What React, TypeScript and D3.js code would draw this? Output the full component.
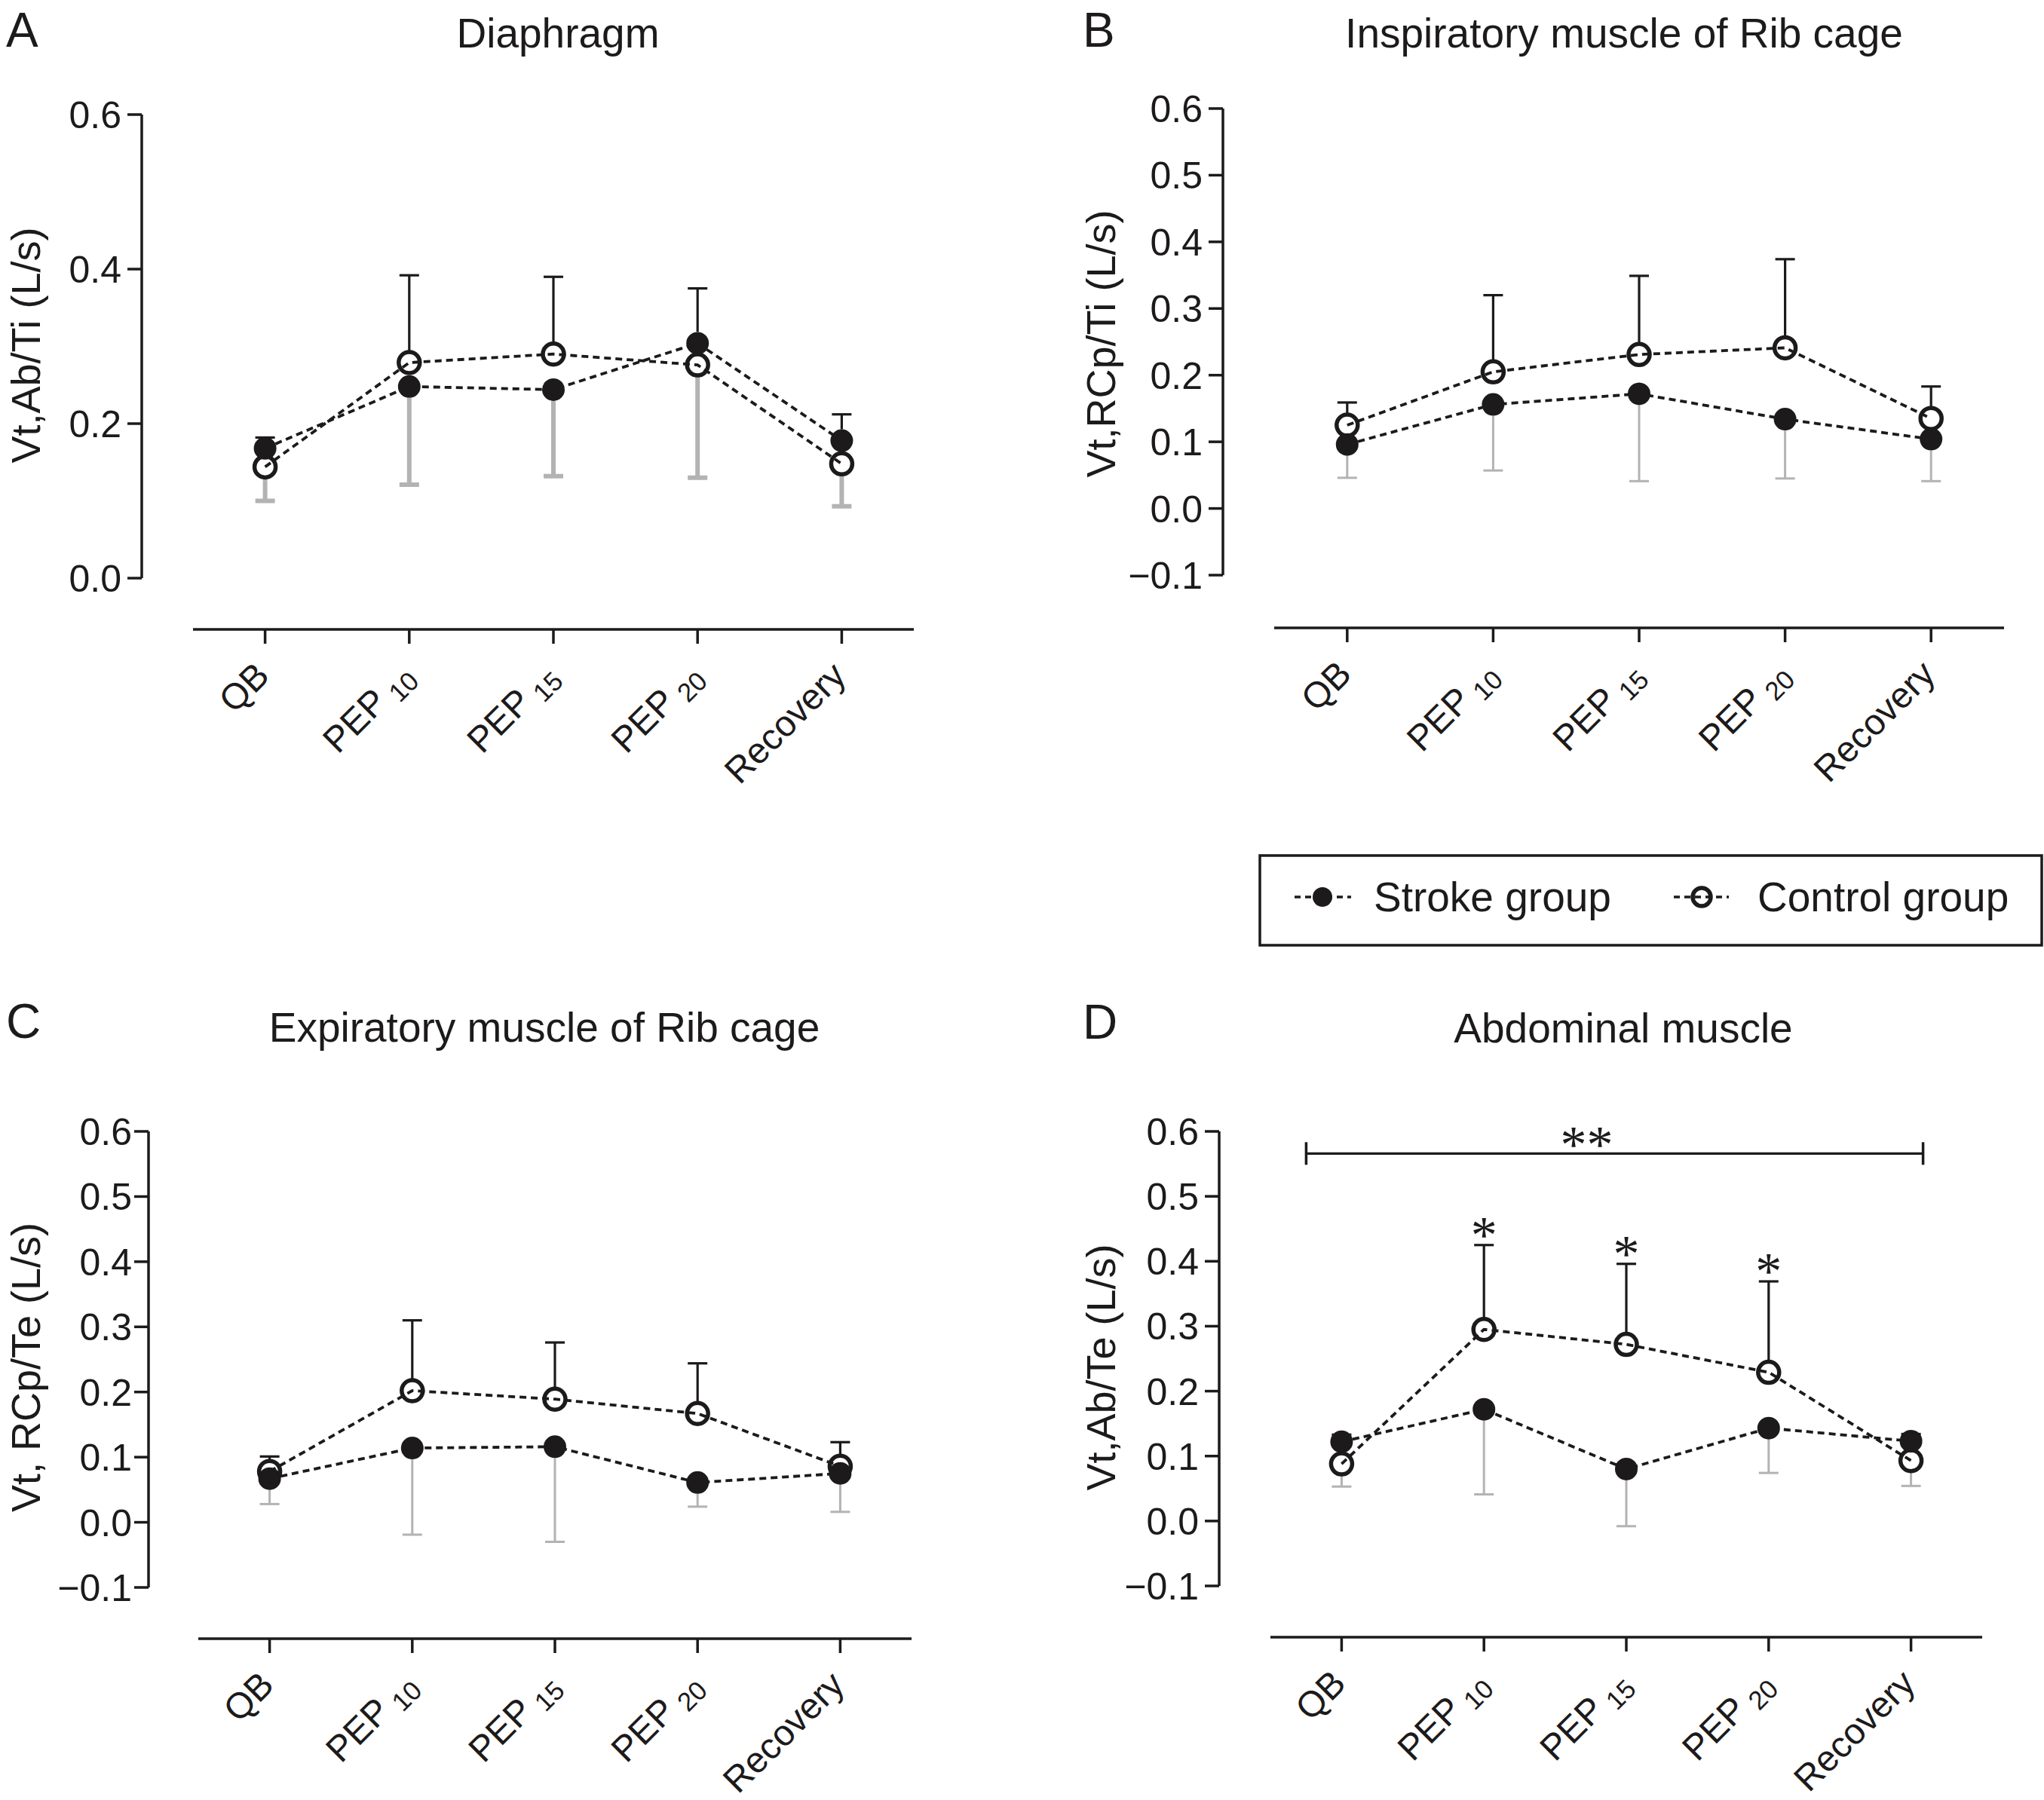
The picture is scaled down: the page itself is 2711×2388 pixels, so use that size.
import * as d3 from "d3";

const categories = ["QB", "PEP10", "PEP15", "PEP20", "Recovery"];
const catMain = ["QB", "PEP", "PEP", "PEP", "Recovery"];
const catSub = ["", "10", "15", "20", ""];

// A: Diaphragm
const strokeA = [0.168, 0.248, 0.244, 0.304, 0.178];
const controlA = [0.144, 0.279, 0.29, 0.276, 0.148];
const highA = [0.182, 0.392, 0.39, 0.375, 0.212];
const lowA = [0.1, 0.121, 0.132, 0.13, 0.093];

// B: Inspiratory muscle of Rib cage
const strokeB = [0.096, 0.156, 0.172, 0.134, 0.104];
const controlB = [0.125, 0.205, 0.231, 0.241, 0.135];
const highB = [0.159, 0.32, 0.349, 0.374, 0.183];
const lowB = [0.046, 0.057, 0.041, 0.045, 0.041];

// C: Expiratory muscle of Rib cage
const strokeC = [0.067, 0.114, 0.116, 0.061, 0.075];
const controlC = [0.078, 0.202, 0.189, 0.167, 0.086];
const highC = [0.101, 0.31, 0.276, 0.244, 0.123];
const lowC = [0.028, -0.019, -0.03, 0.024, 0.016];

// D: Abdominal muscle
const strokeD = [0.122, 0.172, 0.08, 0.143, 0.123];
const controlD = [0.088, 0.295, 0.272, 0.229, 0.093];
const highD = [0.133, 0.425, 0.396, 0.369, 0.134];
const lowD = [0.053, 0.041, -0.008, 0.074, 0.054];

const ticksA = [0, 0.2, 0.4, 0.6];
const ticksBCD = [-0.1, 0, 0.1, 0.2, 0.3, 0.4, 0.5, 0.6];

const sigStarIdx = [1, 2, 3]; // single * over control error bars in D

const FONT = "'Liberation Sans', Arial, Helvetica, sans-serif";
const SERIF = "'Liberation Serif', 'Times New Roman', serif";
const INK = "#1c1a1b";
const GRAY = "#b3b3b3";
const fmt = d3.format(".1f");

const panels = [
  {
    letter: "A", title: "Diaphragm", yLabel: "Vt,Ab/Ti (L/s)",
    stroke: strokeA, control: controlA, high: highA, low: lowA,
    yDomain: [0, 0.6], ticks: ticksA,
    axisX: 188, yTop: 152, yBot: 767, xAxisY: 835, xRange: [256, 1212],
    titleX: 740, titleY: 63, letterX: 8, letterY: 62, yLabelX: 53, yLabelY: 458,
    grayW: 6, labelGap: 27,
  },
  {
    letter: "B", title: "Inspiratory muscle of Rib cage", yLabel: "Vt,RCp/Ti (L/s)",
    stroke: strokeB, control: controlB, high: highB, low: lowB,
    yDomain: [-0.1, 0.6], ticks: ticksBCD,
    axisX: 1622, yTop: 144, yBot: 763, xAxisY: 833, xRange: [1690, 2658],
    titleX: 2154, titleY: 63, letterX: 1436, letterY: 62, yLabelX: 1479, yLabelY: 456,
    grayW: 3, labelGap: 27,
  },
  {
    letter: "C", title: "Expiratory muscle of Rib cage", yLabel: "Vt, RCp/Te (L/s)",
    stroke: strokeC, control: controlC, high: highC, low: lowC,
    yDomain: [-0.1, 0.6], ticks: ticksBCD,
    axisX: 197, yTop: 1501, yBot: 2106, xAxisY: 2174, xRange: [263, 1209],
    titleX: 722, titleY: 1382, letterX: 8, letterY: 1377, yLabelX: 53, yLabelY: 1814,
    grayW: 3, labelGap: 22,
  },
  {
    letter: "D", title: "Abdominal muscle", yLabel: "Vt,Ab/Te (L/s)",
    stroke: strokeD, control: controlD, high: highD, low: lowD,
    yDomain: [-0.1, 0.6], ticks: ticksBCD,
    axisX: 1617, yTop: 1501, yBot: 2104, xAxisY: 2172, xRange: [1685, 2629],
    titleX: 2153, titleY: 1383, letterX: 1436, letterY: 1378, yLabelX: 1479, yLabelY: 1814,
    grayW: 3, labelGap: 27,
  },
];

const R_FILL = 15;
const R_OPEN = 14;

function Panel({ p }: { p: (typeof panels)[number] }) {
  const x = d3.scalePoint<string>().domain(categories).range(p.xRange as [number, number]).padding(0.5);
  const y = d3.scaleLinear().domain(p.yDomain).range([p.yBot, p.yTop]);
  const line = d3
    .line<number>()
    .x((_, i) => x(categories[i])!)
    .y((d) => y(d));

  const capHalf = 13;

  return (
    <g>
      <text x={p.letterX} y={p.letterY} fontSize={64} fill={INK} fontFamily={FONT}>{p.letter}</text>
      <text x={p.titleX} y={p.titleY} fontSize={55} fill={INK} fontFamily={FONT} textAnchor="middle">{p.title}</text>
      <text
        transform={`translate(${p.yLabelX},${p.yLabelY}) rotate(-90)`}
        fontSize={54} fill={INK} fontFamily={FONT} textAnchor="middle"
      >{p.yLabel}</text>

      {/* y axis */}
      <line x1={p.axisX} x2={p.axisX} y1={y(p.yDomain[1])} y2={y(p.yDomain[0])} stroke={INK} strokeWidth={3.5} />
      {p.ticks.map((t) => (
        <g key={t}>
          <line x1={p.axisX - 19} x2={p.axisX} y1={y(t)} y2={y(t)} stroke={INK} strokeWidth={3.5} />
          <text x={p.axisX - p.labelGap} y={y(t)} dy="0.36em" fontSize={50} fill={INK} fontFamily={FONT} textAnchor="end">
            {fmt(t)}
          </text>
        </g>
      ))}

      {/* x axis */}
      <line x1={p.xRange[0]} x2={p.xRange[1]} y1={p.xAxisY} y2={p.xAxisY} stroke={INK} strokeWidth={3.5} />
      {categories.map((c, i) => (
        <g key={c}>
          <line x1={x(c)} x2={x(c)} y1={p.xAxisY} y2={p.xAxisY + 19} stroke={INK} strokeWidth={3.5} />
          <text
            transform={`translate(${x(c)! + 8},${p.xAxisY + 64}) rotate(-45)`}
            fontSize={48} fill={INK} fontFamily={FONT} textAnchor="end"
          >
            {catMain[i]}
            {catSub[i] && (
              <tspan fontSize={35} dx={10} dy={10}>{catSub[i]}</tspan>
            )}
          </text>
        </g>
      ))}

      {/* gray (lower) error bars */}
      {categories.map((c, i) => {
        const lo = Math.min(p.stroke[i], p.control[i]);
        const y0 = y(lo) + R_FILL;
        const y1 = y(p.low[i]);
        return (
          <g key={c} stroke={GRAY} strokeWidth={p.grayW}>
            {y1 > y0 && <line x1={x(c)} x2={x(c)} y1={y0} y2={y1} />}
            <line x1={x(c)! - capHalf} x2={x(c)! + capHalf} y1={y1} y2={y1} />
          </g>
        );
      })}

      {/* black (upper) error bars */}
      {categories.map((c, i) => {
        const hi = Math.max(p.stroke[i], p.control[i]);
        const y0 = y(hi) - R_FILL;
        const y1 = y(p.high[i]);
        return (
          <g key={c} stroke={INK} strokeWidth={3.2}>
            {y0 > y1 && <line x1={x(c)} x2={x(c)} y1={y0} y2={y1} />}
            <line x1={x(c)! - capHalf} x2={x(c)! + capHalf} y1={y1} y2={y1} />
          </g>
        );
      })}

      <path d={line(p.stroke)!} fill="none" stroke={INK} strokeWidth={3.8} strokeDasharray="9 6" />
      <path d={line(p.control)!} fill="none" stroke={INK} strokeWidth={3.8} strokeDasharray="9 6" />

      {p.stroke.map((v, i) => (
        <circle key={"s" + i} cx={x(categories[i])} cy={y(v)} r={R_FILL} fill={INK} />
      ))}
      {p.control.map((v, i) => (
        <circle key={"c" + i} cx={x(categories[i])} cy={y(v)} r={R_OPEN} fill="none" stroke={INK} strokeWidth={5.5} />
      ))}

      {p.letter === "D" && (
        <g>
          {/* overall group difference bar */}
          <line x1={x("QB")! - 47} x2={x("Recovery")! + 16} y1={y(0.566)} y2={y(0.566)} stroke={INK} strokeWidth={3.2} />
          <line x1={x("QB")! - 47} x2={x("QB")! - 47} y1={y(0.566) - 15} y2={y(0.566) + 15} stroke={INK} strokeWidth={3.5} />
          <line x1={x("Recovery")! + 16} x2={x("Recovery")! + 16} y1={y(0.566) - 15} y2={y(0.566) + 15} stroke={INK} strokeWidth={3.5} />
          <text x={(x("PEP10")! + x("PEP15")!) / 2 + 42} y={y(0.566) + 12} fontSize={70} fill={INK}
            fontFamily={SERIF} textAnchor="middle">**</text>
          {sigStarIdx.map((i) => (
            <text key={i} x={x(categories[i])} y={y(p.high[i]) + 10} fontSize={70} fill={INK}
              fontFamily={SERIF} textAnchor="middle">*</text>
          ))}
        </g>
      )}
    </g>
  );
}

function Legend() {
  return (
    <g fontFamily={FONT} fill={INK}>
      <rect x={1671} y={1135} width={1037} height={119} fill="none" stroke={INK} strokeWidth={3.5} />
      <line x1={1717} x2={1792} y1={1190} y2={1190} stroke={INK} strokeWidth={3.5} strokeDasharray="8 6" />
      <circle cx={1754} cy={1190} r={13} fill={INK} />
      <text x={1822} y={1209} fontSize={55}>Stroke group</text>
      <line x1={2220} x2={2293} y1={1190} y2={1190} stroke={INK} strokeWidth={3.5} strokeDasharray="8 6" />
      <circle cx={2257} cy={1190} r={12} fill="none" stroke={INK} strokeWidth={5.5} />
      <text x={2331} y={1209} fontSize={55}>Control group</text>
    </g>
  );
}

export default function App() {
  return (
    <svg
      width={2711}
      height={2388}
      viewBox="0 0 2711 2388"
      style={{ position: "absolute", left: 0, top: 0, background: "#fff" }}
    >
      <rect width={2711} height={2388} fill="#fff" />
      {panels.map((p) => (
        <Panel key={p.letter} p={p} />
      ))}
      <Legend />
    </svg>
  );
}
